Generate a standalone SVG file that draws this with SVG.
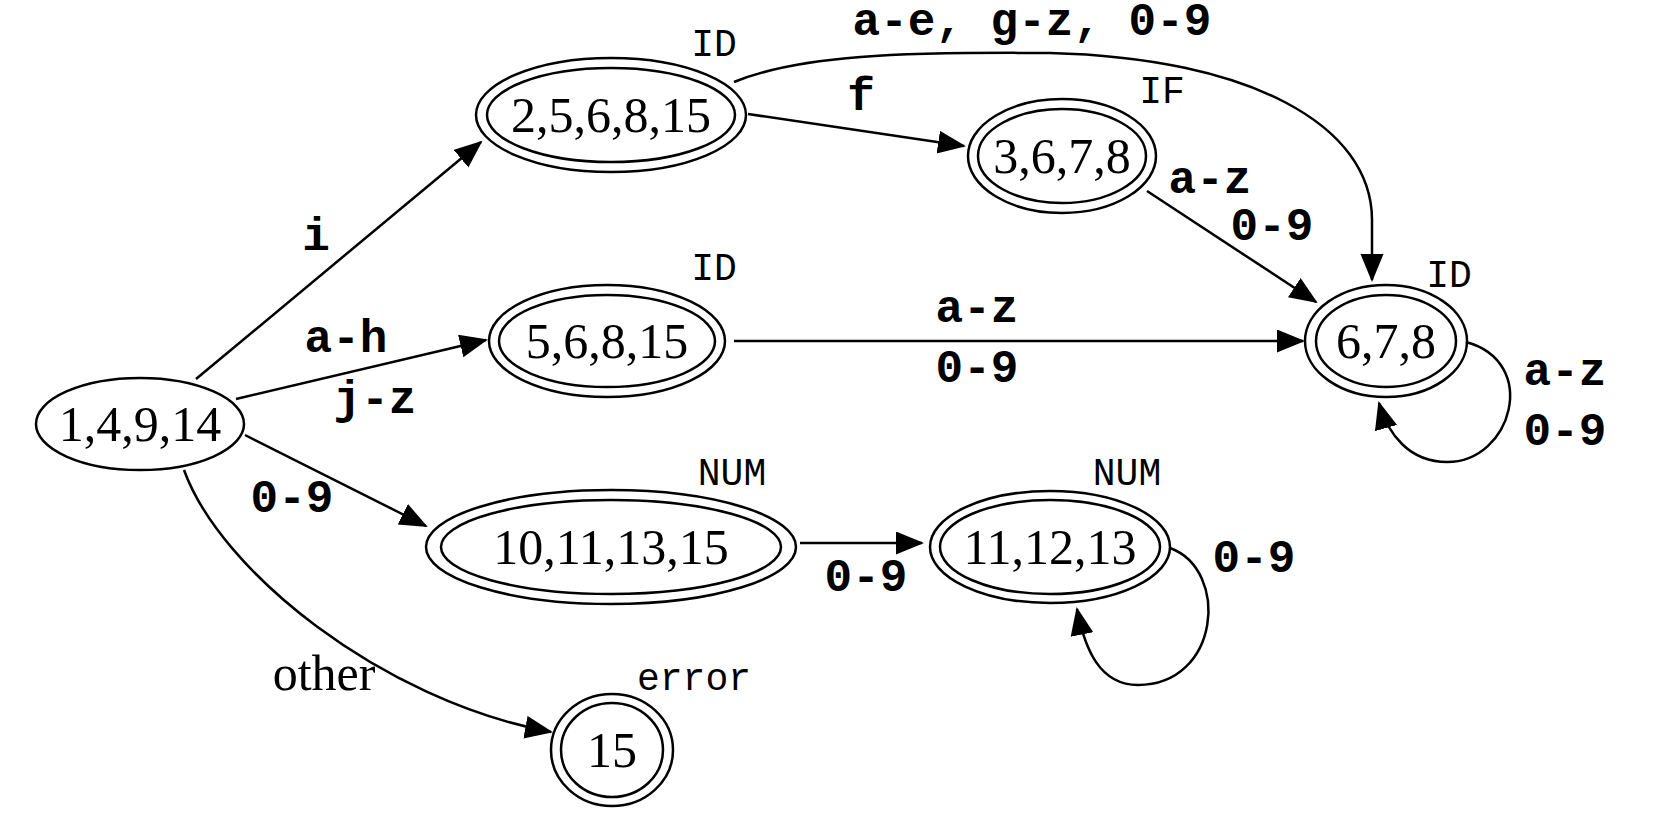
<svg xmlns="http://www.w3.org/2000/svg" width="1668" height="817" viewBox="0 0 1668 817">
<style>
  .n { fill: none; stroke: #000; stroke-width: 2.5; }
  .st { font-family: "Liberation Serif", "Times New Roman", serif; font-size: 50px; text-anchor: middle; fill: #000; }
  .tok { font-family: "Liberation Mono", "Courier New", monospace; font-size: 38px; text-anchor: middle; fill: #000; }
  .el { font-family: "Liberation Mono", "Courier New", monospace; font-size: 46px; font-weight: bold; text-anchor: middle; fill: #000; }
  .ol { font-family: "Liberation Serif", "Times New Roman", serif; font-size: 50px; text-anchor: middle; fill: #000; }
  .e { fill: none; stroke: #000; stroke-width: 2.5; marker-end: url(#arr); }
</style>
<defs>
  <marker id="arr" markerUnits="userSpaceOnUse" markerWidth="30" markerHeight="24" refX="26" refY="11.5" orient="auto">
    <path d="M0,0 L28,11.5 L0,23 z" fill="#000"/>
  </marker>
</defs>
<rect width="1668" height="817" fill="#fff"/>

<g id="connectors">
  <path class="e" d="M196,379 L481,142"/>
  <path class="e" d="M236,399 L486,340"/>
  <path class="e" d="M245,435 L426,526"/>
  <path class="e" d="M184,470 C220,570 380,700 551,732"/>
  <path class="e" d="M748,114 L964,146"/>
  <path class="e" d="M734,82 C800,55 900,52 1050,53 C1250,58 1372,125 1372,220 L1372,280"/>
  <path class="e" d="M1147,191 L1316,302"/>
  <path class="e" d="M734,341 L1303,341"/>
  <path class="e" d="M1466,342 C1540,362 1512,462 1447,462 C1410,462 1388,435 1379,403"/>
  <path class="e" d="M800,543 L922,543"/>
  <path class="e" d="M1170,548 C1230,570 1220,685 1138,685 C1100,685 1085,650 1077,609"/>
  <text class="el" x="316" y="250">i</text>
  <text class="el" x="346" y="352">a-h</text>
  <text class="el" x="375" y="413">j-z</text>
  <text class="el" x="292" y="512">0-9</text>
  <text class="ol" x="324" y="690">other</text>
  <text class="el" x="861" y="110">f</text>
  <text class="el" x="1032" y="35">a-e, g-z, 0-9</text>
  <text class="el" x="1210" y="193">a-z</text>
  <text class="el" x="1272" y="240">0-9</text>
  <text class="el" x="977" y="322">a-z</text>
  <text class="el" x="977" y="382">0-9</text>
  <text class="el" x="1565" y="385">a-z</text>
  <text class="el" x="1565" y="445">0-9</text>
  <text class="el" x="866" y="591">0-9</text>
  <text class="el" x="1254" y="572">0-9</text>
</g>

<g id="n1_4_9_14">
  <ellipse class="n" cx="140" cy="424" rx="104" ry="46"/>
  <text class="st" x="140" y="441">1,4,9,14</text>
</g>
<g id="n2_5_6_8_15">
  <ellipse class="n" cx="611" cy="115" rx="135" ry="57"/>
  <ellipse class="n" cx="611" cy="115" rx="124" ry="47"/>
  <text class="st" x="611" y="132">2,5,6,8,15</text>
  <text class="tok" x="714" y="56">ID</text>
</g>
<g id="n5_6_8_15">
  <ellipse class="n" cx="607" cy="341" rx="118" ry="56"/>
  <ellipse class="n" cx="607" cy="341" rx="108" ry="46"/>
  <text class="st" x="607" y="358">5,6,8,15</text>
  <text class="tok" x="714" y="280">ID</text>
</g>
<g id="n3_6_7_8">
  <ellipse class="n" cx="1062" cy="156" rx="94" ry="57"/>
  <ellipse class="n" cx="1062" cy="156" rx="84" ry="47"/>
  <text class="st" x="1062" y="173">3,6,7,8</text>
  <text class="tok" x="1162" y="103">IF</text>
</g>
<g id="n6_7_8">
  <ellipse class="n" cx="1386" cy="341" rx="81" ry="56"/>
  <ellipse class="n" cx="1386" cy="341" rx="70" ry="46"/>
  <text class="st" x="1386" y="358">6,7,8</text>
  <text class="tok" x="1449" y="287">ID</text>
</g>
<g id="n10_11_13_15">
  <ellipse class="n" cx="611" cy="547" rx="185" ry="57"/>
  <ellipse class="n" cx="611" cy="547" rx="170" ry="47"/>
  <text class="st" x="611" y="564">10,11,13,15</text>
  <text class="tok" x="732" y="485">NUM</text>
</g>
<g id="n11_12_13">
  <ellipse class="n" cx="1050" cy="547" rx="120" ry="56"/>
  <ellipse class="n" cx="1050" cy="547" rx="110" ry="47"/>
  <text class="st" x="1050" y="564">11,12,13</text>
  <text class="tok" x="1127" y="485">NUM</text>
</g>
<g id="n15">
  <ellipse class="n" cx="612" cy="750" rx="61" ry="56"/>
  <ellipse class="n" cx="612" cy="750" rx="51" ry="47"/>
  <text class="st" x="612" y="767">15</text>
  <text class="tok" x="694" y="690">error</text>
</g>
</svg>
